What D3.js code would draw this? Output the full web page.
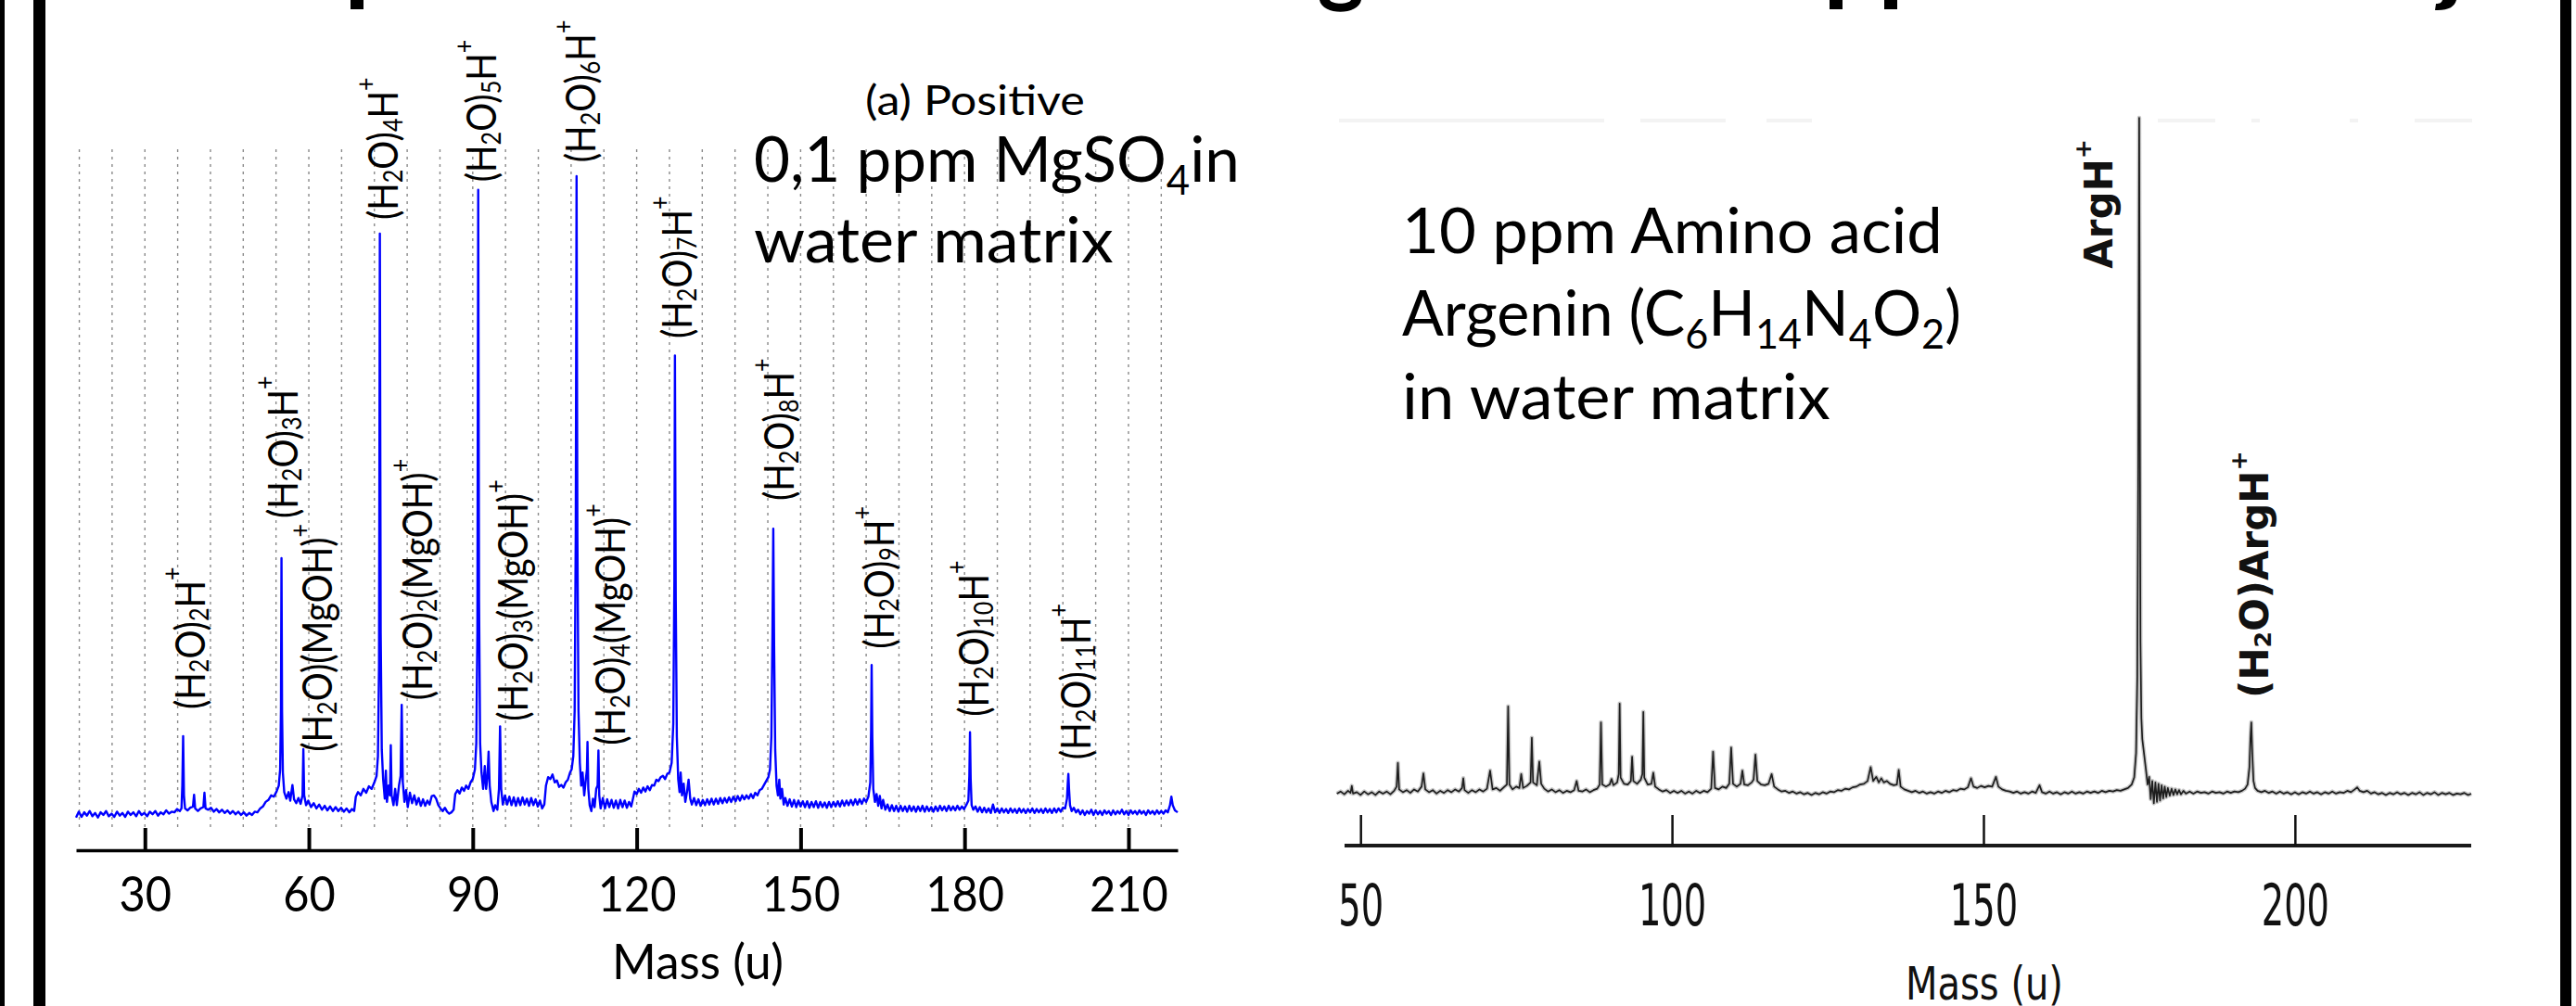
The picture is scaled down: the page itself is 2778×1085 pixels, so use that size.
<!DOCTYPE html>
<html><head><meta charset="utf-8">
<script src="https://cdn.jsdelivr.net/npm/d3@7"></script>
<style>
html,body{margin:0;padding:0;background:#fff;overflow:hidden}
text{white-space:pre}
</style>
</head><body>
<svg id="c" width="2778" height="1085"></svg>
<script>
// ---------------- DATA ----------------
const leftTicks = [30, 60, 90, 120, 150, 180, 210];
const leftGrid = [18,24,30,36,42,48,54,60,66,72,78,84,90,96,102,108,114,120,126,132,138,144,150,156,162,168,174,180,186,192,198,204,210,216];
const rightTicks = [50, 100, 150, 200];

// left spectrum (mass u, relative intensity)
const leftSpectrum = [
[17.4,1.6],[17.9,2.5],[18.4,1.7],[18.9,2.4],[19.4,1.9],[19.9,2.6],[20.4,1.8],[20.9,2.3],[21.4,1.6],[21.9,2.4],
[22.4,2.0],[22.9,2.6],[23.4,1.8],[23.9,2.2],[24.4,1.7],[24.9,2.5],[25.4,1.9],[25.9,2.3],[26.4,1.7],[26.9,2.5],
[27.4,2.0],[27.9,2.4],[28.4,1.8],[28.9,2.6],[29.4,2.0],[29.9,2.3],[30.4,1.8],[30.9,2.5],[31.4,2.1],[31.9,2.6],
[32.4,1.9],[32.9,2.4],[33.4,2.1],[33.9,2.7],[34.4,2.2],[34.9,2.5],[35.4,2.4],[35.9,2.9],[36.4,2.6],[36.7,3.0],
[36.85,6.5],[37.0,14.1],[37.15,5.0],[37.35,3.0],[37.8,2.7],[38.3,3.1],[38.8,3.3],[39.0,5.1],[39.2,3.0],[39.7,2.6],
[40.2,3.0],[40.7,3.2],[40.9,5.4],[41.1,3.0],[41.6,2.8],[42.1,3.1],[42.6,2.5],[43.1,2.9],[43.6,2.4],[44.1,2.8],
[44.6,2.3],[45.1,2.7],[45.6,2.2],[46.1,2.6],[46.6,2.1],[47.1,2.5],[47.6,2.0],[48.1,2.4],[48.6,1.9],[49.1,2.3],
[49.6,2.0],[50.1,2.5],[50.6,2.4],[51.1,3.0],[51.6,3.3],[52.1,4.0],[52.6,4.3],[53.1,5.0],[53.6,4.8],[54.1,5.6],
[54.5,6.5],[54.75,9.0],[54.9,18],[55.0,41.4],[55.1,18],[55.25,8.5],[55.5,5.5],[55.9,4.5],[56.3,5.5],[56.6,4.2],
[57.0,6.6],[57.3,4.4],[57.7,3.8],[58.1,4.6],[58.5,3.7],[58.85,5.0],[59.0,12.1],[59.15,5.0],[59.5,3.5],[59.9,4.2],
[60.4,3.2],[60.9,3.8],[61.4,3.0],[61.9,3.6],[62.4,2.8],[62.9,3.4],[63.4,2.7],[63.9,3.3],[64.4,2.6],[64.9,3.2],
[65.4,2.6],[65.9,3.1],[66.4,2.5],[66.9,3.0],[67.4,2.4],[67.9,2.9],[68.3,2.6],[68.6,4.8],[69.0,5.5],[69.5,5.0],
[70.0,6.0],[70.5,5.4],[71.0,6.4],[71.5,6.0],[72.0,7.0],[72.4,8.0],[72.65,11],[72.85,25],[73.0,91.2],[73.15,30],
[73.35,12],[73.6,7.5],[73.9,4.5],[74.1,8.8],[74.3,4.0],[74.6,6.5],[74.85,5.0],[75.0,12.7],[75.15,5.0],[75.5,3.5],
[75.8,6.0],[76.1,3.5],[76.5,6.5],[76.8,8.0],[77.0,18.9],[77.2,7.0],[77.5,4.0],[77.8,5.8],[78.1,3.2],[78.5,5.4],
[78.9,3.8],[79.3,5.0],[79.7,3.6],[80.1,4.6],[80.5,3.4],[80.9,4.4],[81.3,3.4],[81.7,4.2],[82.1,3.6],[82.5,4.9],
[82.9,5.0],[83.3,4.5],[83.7,3.5],[84.1,3.0],[84.5,2.6],[84.9,3.1],[85.3,2.5],[85.7,2.2],[86.1,2.4],[86.5,2.8],
[86.8,5.2],[87.2,5.8],[87.6,5.3],[88.0,6.2],[88.4,5.7],[88.8,6.5],[89.2,6.0],[89.6,7.0],[90.0,7.5],[90.4,9.0],
[90.65,13],[90.85,30],[91.0,97.9],[91.15,35],[91.35,13],[91.6,8.5],[91.9,6.0],[92.2,9.5],[92.45,6.0],[92.7,8.0],
[92.9,11.7],[93.1,6.5],[93.4,4.0],[93.8,2.6],[94.1,3.5],[94.5,2.8],[94.8,6.0],[95.0,15.6],[95.2,6.0],[95.5,3.6],
[95.9,5.0],[96.3,3.6],[96.7,4.8],[97.1,3.5],[97.5,4.7],[97.9,3.4],[98.3,4.6],[98.7,3.5],[99.1,4.7],[99.5,3.6],
[99.9,4.5],[100.3,3.4],[100.7,4.6],[101.1,3.5],[101.5,4.4],[101.9,3.3],[102.3,4.2],[102.7,3.0],[103.1,3.6],[103.4,6.5],
[103.8,7.8],[104.2,7.5],[104.6,8.2],[105.0,7.0],[105.4,7.3],[105.8,6.3],[106.2,6.6],[106.6,6.2],[107.0,7.0],[107.4,7.4],
[107.8,8.5],[108.1,9.0],[108.4,11],[108.65,18],[108.85,45],[109.0,100],[109.15,45],[109.35,18],[109.6,10],[109.85,6.5],
[110.1,8.5],[110.4,5.0],[110.7,7.5],[110.9,9.0],[111.0,13.2],[111.15,6.0],[111.4,3.5],[111.7,2.6],[112.0,4.5],[112.3,3.2],
[112.6,6.0],[112.85,6.5],[113.0,11.9],[113.15,5.0],[113.4,3.0],[113.8,4.6],[114.2,3.0],[114.6,4.4],[115.0,3.2],[115.4,4.3],
[115.8,3.1],[116.2,4.2],[116.6,3.0],[117.0,4.3],[117.4,3.2],[117.8,4.2],[118.2,3.1],[118.6,4.0],[119.0,3.3],[119.3,4.4],
[119.6,5.6],[120.0,5.2],[120.4,6.0],[120.8,5.4],[121.2,6.2],[121.6,5.6],[122.0,6.4],[122.4,5.8],[122.8,6.6],[123.2,6.5],
[123.6,7.4],[124.0,7.2],[124.4,7.8],[124.8,8.0],[125.2,7.5],[125.6,8.3],[126.0,8.5],[126.4,10],[126.7,16],[126.9,38],
[127.0,72.5],[127.15,35],[127.35,14],[127.6,7.5],[127.85,5.5],[128.05,8.5],[128.3,5.0],[128.6,6.8],[128.9,4.0],[129.2,5.5],
[129.5,7.4],[129.8,4.5],[130.1,3.6],[130.5,4.6],[130.9,3.5],[131.3,4.4],[131.7,3.4],[132.1,4.3],[132.5,3.5],[132.9,4.4],
[133.3,3.6],[133.7,4.5],[134.1,3.6],[134.5,4.5],[134.9,3.7],[135.3,4.6],[135.7,3.8],[136.1,4.6],[136.5,3.9],[136.9,4.7],
[137.3,4.0],[137.7,4.8],[138.1,4.1],[138.5,4.9],[138.9,4.2],[139.3,5.0],[139.7,4.4],[140.1,5.0],[140.5,4.5],[140.9,5.2],
[141.3,4.6],[141.7,5.4],[142.1,5.0],[142.5,5.8],[142.9,6.0],[143.3,6.6],[143.7,7.2],[144.1,7.8],[144.4,9.0],[144.65,14],
[144.85,30],[145.0,45.9],[145.15,28],[145.35,12],[145.6,6.5],[145.85,5.0],[146.1,7.4],[146.3,4.5],[146.6,6.0],[146.9,3.6],
[147.2,4.6],[147.6,3.4],[148.0,4.4],[148.4,3.3],[148.8,4.3],[149.2,3.2],[149.6,4.2],[150.0,3.3],[150.4,4.1],[150.8,3.2],
[151.2,4.1],[151.6,3.1],[152.0,4.0],[152.4,3.2],[152.8,4.1],[153.2,3.1],[153.6,4.0],[154.0,3.2],[154.4,3.9],[154.8,3.1],
[155.2,4.0],[155.6,3.2],[156.0,4.0],[156.4,3.3],[156.8,4.1],[157.2,3.3],[157.6,4.2],[158.0,3.4],[158.4,4.2],[158.8,3.5],
[159.2,4.3],[159.6,3.5],[160.0,4.4],[160.4,3.6],[160.8,4.4],[161.2,3.7],[161.6,4.5],[162.0,4.0],[162.4,4.8],[162.75,7.0],
[162.9,15],[163.0,25.0],[163.12,14],[163.3,6.0],[163.6,4.0],[163.9,5.2],[164.2,3.4],[164.5,4.9],[164.8,3.0],[165.1,4.3],
[165.5,2.8],[165.9,3.6],[166.3,2.6],[166.7,3.5],[167.1,2.6],[167.5,3.4],[167.9,2.5],[168.3,3.4],[168.7,2.6],[169.1,3.3],
[169.5,2.5],[169.9,3.4],[170.3,2.6],[170.7,3.3],[171.1,2.5],[171.5,3.3],[171.9,2.6],[172.3,3.4],[172.7,2.5],[173.1,3.3],
[173.5,2.6],[173.9,3.2],[174.3,2.5],[174.7,3.3],[175.1,2.6],[175.5,3.4],[175.9,2.7],[176.3,3.3],[176.7,2.6],[177.1,3.4],
[177.5,2.7],[177.9,3.3],[178.3,2.7],[178.7,3.4],[179.1,2.8],[179.5,3.3],[179.9,2.9],[180.3,3.5],[180.7,4.2],[180.88,8.0],
[181.0,14.7],[181.12,7.5],[181.3,3.5],[181.6,2.8],[182.0,3.3],[182.4,2.5],[182.8,3.2],[183.2,2.4],[183.6,3.1],[184.0,2.4],
[184.4,3.0],[184.8,2.3],[185.2,3.6],[185.6,2.4],[186.0,3.0],[186.4,2.3],[186.8,3.0],[187.2,2.4],[187.6,2.9],[188.0,2.3],
[188.4,3.0],[188.8,2.4],[189.2,2.9],[189.6,2.3],[190.0,3.0],[190.4,2.4],[190.8,2.9],[191.2,2.3],[191.6,2.9],[192.0,2.4],
[192.4,3.0],[192.8,2.3],[193.2,2.9],[193.6,2.4],[194.0,2.9],[194.4,2.3],[194.8,3.0],[195.2,2.4],[195.6,2.9],[196.0,2.3],
[196.4,3.0],[196.8,2.4],[197.2,3.0],[197.6,2.5],[198.0,3.1],[198.4,3.0],[198.75,4.5],[198.9,7.0],[199.0,8.3],[199.12,6.0],
[199.3,3.5],[199.6,2.6],[200.0,3.1],[200.4,2.4],[200.8,2.8],[201.2,2.1],[201.6,2.7],[202.0,2.0],[202.4,2.6],[202.8,2.2],
[203.2,2.8],[203.6,2.0],[204.0,2.7],[204.4,2.1],[204.8,2.6],[205.2,2.0],[205.6,2.7],[206.0,2.2],[206.4,2.6],[206.8,2.0],
[207.2,2.7],[207.6,2.1],[208.0,2.6],[208.4,2.2],[208.8,2.8],[209.2,2.1],[209.6,2.6],[210.0,2.0],[210.4,2.7],[210.8,2.2],
[211.2,2.6],[211.6,2.1],[212.0,2.7],[212.4,2.2],[212.8,2.6],[213.2,2.0],[213.6,2.7],[214.0,2.2],[214.4,2.6],[214.8,2.1],
[215.2,2.7],[215.6,2.2],[216.0,2.6],[216.4,2.2],[216.8,2.7],[217.2,2.4],[217.6,3.5],[217.85,4.8],[218.1,3.5],[218.5,2.7],
[219.0,2.4]
];

// right spectrum (mass u, relative intensity)
const rightSpectrum = [
[46.2,3.2],[46.8,3.5],[47.4,3.1],[48.0,3.6],[48.4,3.3],[48.6,4.3],[48.8,3.2],[49.4,3.4],[50.0,3.0],[50.6,3.5],
[51.2,3.1],[51.8,3.4],[52.4,3.0],[53.0,3.5],[53.6,3.2],[54.2,3.5],[54.8,3.1],[55.4,3.6],[55.8,4.2],[56.0,7.6],
[56.2,3.8],[56.8,3.4],[57.4,3.7],[58.0,3.3],[58.6,3.8],[59.2,3.5],[59.8,4.2],[60.1,6.1],[60.4,3.8],[61.0,3.4],
[61.6,3.7],[62.2,3.2],[62.8,3.6],[63.4,3.3],[64.0,3.7],[64.6,3.4],[65.2,3.8],[65.8,3.5],[66.3,4.0],[66.5,5.4],
[66.7,3.7],[67.3,3.3],[67.9,3.7],[68.5,3.4],[69.1,3.8],[69.7,3.5],[70.3,3.9],[70.8,6.5],[71.2,3.8],[71.8,4.0],
[72.4,3.6],[73.0,4.1],[73.5,4.5],[73.7,15.7],[73.9,4.5],[74.4,3.8],[75.0,4.2],[75.5,4.0],[75.8,6.0],[76.1,4.0],
[76.7,4.3],[77.3,4.8],[77.5,11.2],[77.7,4.8],[78.3,4.4],[78.7,7.8],[79.0,4.6],[79.5,3.9],[80.1,3.5],[80.7,3.8],
[81.3,3.4],[81.9,3.7],[82.5,3.3],[83.1,3.6],[83.7,3.4],[84.3,3.7],[84.7,5.0],[85.0,3.6],[85.6,3.5],[86.2,3.8],
[86.8,3.4],[87.4,3.7],[88.0,3.9],[88.4,4.5],[88.6,13.4],[88.8,4.5],[89.4,4.2],[90.0,4.5],[90.3,5.3],[90.6,4.4],
[91.2,4.8],[91.45,6.0],[91.6,16.1],[91.75,5.5],[92.3,4.6],[92.9,4.5],[93.4,5.0],[93.6,8.5],[93.8,5.0],[94.4,4.6],
[95.0,5.2],[95.25,6.0],[95.4,14.9],[95.55,5.5],[96.1,4.5],[96.7,4.6],[97.0,6.2],[97.3,4.2],[97.9,3.8],[98.5,3.5],
[99.1,3.7],[99.7,3.3],[100.3,3.6],[100.9,3.3],[101.5,3.6],[102.1,3.2],[102.7,3.5],[103.3,3.2],[103.9,3.6],[104.5,3.3],
[105.1,3.6],[105.7,3.4],[106.3,3.9],[106.6,9.2],[106.9,4.0],[107.5,3.8],[108.1,4.2],[108.7,4.0],[109.2,4.6],[109.5,9.8],
[109.8,4.6],[110.4,4.2],[111.0,4.6],[111.3,6.5],[111.6,4.5],[112.2,4.4],[112.8,4.8],[113.1,5.2],[113.4,8.8],[113.7,5.0],
[114.3,4.5],[114.9,4.4],[115.5,4.6],[116.0,6.0],[116.4,4.2],[117.0,3.8],[117.6,3.5],[118.2,3.6],[118.8,3.3],[119.4,3.5],
[120.0,3.2],[120.6,3.4],[121.2,3.1],[121.8,3.3],[122.4,3.0],[123.0,3.3],[123.6,3.1],[124.2,3.4],[124.8,3.2],[125.4,3.5],
[126.0,3.4],[126.6,3.7],[127.2,3.6],[127.8,3.9],[128.4,3.8],[129.0,4.1],[129.6,4.2],[130.2,4.5],[130.8,4.6],[131.4,5.0],
[131.9,7.0],[132.3,5.0],[132.8,5.6],[133.2,4.8],[133.6,5.4],[134.0,4.8],[134.5,5.0],[135.0,4.6],[135.6,4.4],[136.1,4.5],
[136.4,6.6],[136.7,4.2],[137.3,3.8],[137.9,3.6],[138.5,3.4],[139.1,3.6],[139.7,3.3],[140.3,3.5],[140.9,3.2],[141.5,3.4],
[142.1,3.2],[142.7,3.5],[143.3,3.3],[143.9,3.6],[144.5,3.4],[145.1,3.7],[145.7,3.6],[146.3,3.9],[146.9,3.8],[147.5,4.1],
[148.0,5.4],[148.4,4.2],[149.0,4.0],[149.6,4.3],[150.2,4.1],[150.8,4.3],[151.4,4.2],[152.0,5.6],[152.4,4.2],[153.0,3.8],
[153.6,3.6],[154.2,3.5],[154.8,3.3],[155.4,3.5],[156.0,3.2],[156.6,3.4],[157.2,3.2],[157.8,3.5],[158.4,3.3],[159.0,4.4],
[159.4,3.4],[160.0,3.2],[160.6,3.5],[161.2,3.2],[161.8,3.4],[162.4,3.1],[163.0,3.4],[163.6,3.2],[164.2,3.5],[164.8,3.2],
[165.4,3.4],[166.0,3.2],[166.6,3.5],[167.2,3.3],[167.8,3.5],[168.4,3.3],[169.0,3.6],[169.6,3.4],[170.2,3.6],[170.8,3.5],
[171.4,3.7],[172.0,3.6],[172.6,3.8],[173.2,4.0],[173.8,4.5],[174.2,5.5],[174.5,9.0],[174.7,20],[174.85,50],[175.0,100],
[175.1,60],[175.2,25],[175.35,14],[175.5,11],[175.7,9.5],[175.9,8.0],[176.1,6.5],[176.35,4.5],[176.6,5.6],[176.85,2.4],
[177.1,5.0],[177.35,1.8],[177.6,4.8],[177.85,2.0],[178.1,4.6],[178.35,2.2],[178.6,4.4],[178.85,2.5],[179.1,4.2],[179.35,2.7],
[179.6,4.0],[179.9,2.9],[180.2,3.9],[180.5,3.0],[180.8,3.8],[181.1,3.1],[181.4,3.7],[181.7,3.1],[182.1,3.6],[182.5,3.2],
[183.1,3.5],[183.7,3.2],[184.3,3.5],[184.9,3.3],[185.5,3.4],[186.1,3.2],
[186.7,3.5],[187.3,3.3],[187.9,3.4],[188.5,3.2],[189.1,3.5],[189.7,3.3],[190.3,3.5],[190.9,3.4],[191.5,3.6],[192.0,3.9],
[192.4,4.5],[192.7,7.0],[192.85,11],[193.0,13.4],[193.15,9.0],[193.35,5.0],[193.6,4.0],[194.0,3.6],[194.6,3.4],[195.2,3.6],
[195.8,3.3],[196.4,3.5],[197.0,3.2],[197.6,3.5],[198.2,3.2],[198.8,3.4],[199.4,3.1],[200.0,3.4],[200.6,3.1],[201.2,3.4],
[201.8,3.2],[202.4,3.5],[203.0,3.2],[203.6,3.4],[204.2,3.1],[204.8,3.4],[205.4,3.2],[206.0,3.5],[206.6,3.2],[207.2,3.4],
[207.8,3.3],[208.4,3.6],[209.0,3.4],[209.6,3.8],[210.0,4.1],[210.4,3.6],[211.0,3.4],[211.6,3.6],[212.2,3.2],[212.8,3.4],
[213.4,3.1],[214.0,3.3],[214.6,3.0],[215.2,3.3],[215.8,3.1],[216.4,3.4],[217.0,3.1],[217.6,3.3],[218.2,3.0],[218.8,3.3],
[219.4,3.1],[220.0,3.4],[220.6,3.0],[221.2,3.3],[221.8,3.1],[222.4,3.4],[223.0,3.0],[223.6,3.3],[224.2,3.1],[224.8,3.3],
[225.4,3.0],[226.0,3.2],[226.6,3.1],[227.2,3.3],[227.8,3.0],[228.3,3.2]
];

// peak annotations (text, label mass, label base level in intensity units)
const leftLabelText = ["(H_{2}O)_{2}H^{+}","(H_{2}O)_{3}H^{+}","(H_{2}O)(MgOH)^{+}","(H_{2}O)_{4}H^{+}","(H_{2}O)_{2}(MgOH)^{+}",
  "(H_{2}O)_{5}H^{+}","(H_{2}O)_{3}(MgOH)^{+}","(H_{2}O)_{6}H^{+}","(H_{2}O)_{4}(MgOH)^{+}","(H_{2}O)_{7}H^{+}",
  "(H_{2}O)_{8}H^{+}","(H_{2}O)_{9}H^{+}","(H_{2}O)_{10}H^{+}","(H_{2}O)_{11}H^{+}"];
const leftLabelMass = [38.0, 55.0, 61.4, 73.4, 79.7, 91.4, 97.2, 109.6, 115.0, 127.2, 145.9, 164.2, 181.5, 200.2];
const leftLabelLevel = [18.2, 47.5, 11.7, 93.3, 19.6, 99.1, 16.4, 102.1, 12.7, 75.1, 50.2, 27.5, 17.1, 10.5];

const rightLabelText = ["ArgH^{+}", "(H_{2}O)ArgH^{+}"];
const rightLabelMass = [168.5, 193.5];
const rightLabelLevel = [78.4, 16.9];

const leftTitle = "(a) Positive";
const leftNote = ["0,1 ppm MgSO_{4}in", "water matrix"];
const rightNote = ["10 ppm Amino acid", "Argenin (C_{6}H_{14}N_{4}O_{2})", "in water matrix"];
const axisTitle = "Mass (u)";

// ---------------- DRAW ----------------
const svg = d3.select("#c");
svg.append("rect").attr("width", 2778).attr("height", 1085).attr("fill", "#fff");

function rich(textSel, str, size, subScale, subShift, supShift) {
  const parts = str.match(/_\{[^}]*\}|\^\{[^}]*\}|[^_^]+/g);
  let off = 0;
  parts.forEach(p => {
    let kind = "n", s = p;
    if (p.startsWith("_{")) { kind = "sub"; s = p.slice(2, -1); }
    else if (p.startsWith("^{")) { kind = "sup"; s = p.slice(2, -1); }
    const target = kind === "sub" ? subShift * size : (kind === "sup" ? -supShift * size : 0);
    textSel.append("tspan").text(s)
      .attr("dy", target - off)
      .style("font-size", (kind === "n" ? size : size * subScale) + "px");
    off = target;
  });
}
function fitW(sel, x, w) {
  const bw = sel.node().getBBox().width;
  sel.attr("transform", `translate(${x},0) scale(${w / bw},1) translate(${-x},0)`);
}

// slide frame pieces
svg.append("rect").attr("x", 0).attr("y", 0).attr("width", 5).attr("height", 1085).attr("fill", "#000");
svg.append("rect").attr("x", 36).attr("y", 0).attr("width", 13).attr("height", 1085).attr("fill", "#000");
svg.append("rect").attr("x", 2761).attr("y", 0).attr("width", 12).attr("height", 1085).attr("fill", "#000");
// bottoms of the cut-off slide title
const tg = svg.append("g").attr("fill", "#000");
tg.append("rect").attr("x", 378).attr("y", 0).attr("width", 14).attr("height", 10);
tg.append("path").attr("d", "M1423,0 C1426,17 1465,17 1468,0 L1457,0 C1454,5 1437,5 1434,0 Z");
tg.append("rect").attr("x", 1973).attr("y", 0).attr("width", 14).attr("height", 10);
tg.append("rect").attr("x", 2032).attr("y", 0).attr("width", 14).attr("height", 10);
tg.append("path").attr("d", "M2634,0 L2649,0 C2647,7 2641,11 2629,11 L2626,11 L2627,4 C2631,4 2633,3 2634,0 Z");

// ---------- LEFT CHART ----------
const xL = d3.scaleLinear().domain([17.4, 219]).range([82, 1270]);
const yL = d3.scaleLinear().domain([0, 100]).range([893, 190]);

svg.append("g").selectAll("line").data(leftGrid).join("line")
  .attr("x1", d => xL(d)).attr("x2", d => xL(d))
  .attr("y1", 161).attr("y2", 893)
  .attr("stroke", "#8a8a8a").attr("stroke-width", 1.4).attr("stroke-dasharray", "3,5");

const axL = svg.append("g").attr("transform", "translate(0,917)")
  .call(d3.axisBottom(xL).tickValues(leftTicks).tickFormat(d3.format("d"))
    .tickSizeInner(-24).tickSizeOuter(0).tickPadding(28));
axL.select(".domain").attr("stroke", "#000").attr("stroke-width", 3.5);
axL.selectAll(".tick line").attr("stroke", "#000").attr("stroke-width", 4);
axL.selectAll(".tick text").attr("font-family", "Lato, 'Noto Sans', sans-serif")
  .attr("font-size", 53).attr("fill", "#000").attr("transform", "scale(0.92,1)");

svg.append("path").datum(leftSpectrum)
  .attr("d", d3.line().x(d => xL(d[0])).y(d => yL(d[1])))
  .attr("fill", "none").attr("stroke", "#0000ff").attr("stroke-width", 2.4)
  .attr("stroke-linejoin", "round");

leftLabelText.forEach((s, i) => {
  const g = svg.append("g")
    .attr("transform", `translate(${xL(leftLabelMass[i])},${yL(leftLabelLevel[i])}) rotate(-90) scale(0.86,1)`);
  const t = g.append("text").attr("x", 0).attr("y", 0)
    .attr("font-family", "Lato, 'Noto Sans', sans-serif").attr("fill", "#000")
    .attr("dominant-baseline", "central");
  rich(t, s, 45, 0.65, 0.22, 0.42);
});

const lt = svg.append("text").attr("x", 933).attr("y", 124)
  .attr("font-family", "Lato, 'Noto Sans', sans-serif").attr("font-size", 44).attr("fill", "#000").text(leftTitle);
fitW(lt, 933, 237);

[[leftNote[0], 196, 524], [leftNote[1], 283, 388]].forEach(([s, y, w]) => {
  const t = svg.append("text").attr("x", 813).attr("y", y)
    .attr("font-family", "Lato, 'Noto Sans', sans-serif").attr("fill", "#000");
  rich(t, s, 68, 0.65, 0.2, 0.4);
  fitW(t, 813, w);
});

const mL = svg.append("text").attr("x", 660).attr("y", 1056)
  .attr("font-family", "Lato, 'Noto Sans', sans-serif").attr("font-size", 52).attr("fill", "#000").text(axisTitle);
fitW(mL, 660, 185);

// ---------- RIGHT CHART ----------
const xR = d3.scaleLinear().domain([46.1, 228.3]).range([1441, 2665]);
const yR = d3.scaleLinear().domain([0, 100]).range([880, 127]);

// faint remnants at top of the pasted spectrum image
[[1444,1730],[1769,1861],[1905,1954],[2327,2389],[2428,2437],[2534,2543],[2604,2666]].forEach(([a,b]) => {
  svg.append("rect").attr("x", a).attr("y", 128).attr("width", b - a).attr("height", 4).attr("fill", "#f3f3f3");
});

const axR = svg.append("g").attr("transform", "translate(0,912)")
  .call(d3.axisBottom(xR).tickValues(rightTicks).tickFormat(d3.format("d"))
    .tickSizeInner(-33).tickSizeOuter(0).tickPadding(42));
axR.select(".domain").attr("stroke", "#1a1a1a").attr("stroke-width", 4)
  .attr("d", `M${1450},0H${2665}`);
axR.selectAll(".tick line").attr("stroke", "#111").attr("stroke-width", 2.5);
axR.selectAll(".tick text").attr("font-family", "'DejaVu Sans', Verdana, sans-serif")
  .attr("font-size", 62).attr("fill", "#111").attr("transform", "scale(0.62,1)");

svg.append("path").datum(rightSpectrum)
  .attr("d", d3.line().x(d => xR(d[0])).y(d => yR(d[1])))
  .attr("fill", "none").attr("stroke", "#9a9a9a").attr("stroke-width", 4.5)
  .attr("stroke-linejoin", "round").attr("opacity", 0.55);
svg.append("path").datum(rightSpectrum)
  .attr("d", d3.line().x(d => xR(d[0])).y(d => yR(d[1])))
  .attr("fill", "none").attr("stroke", "#1e1e1e").attr("stroke-width", 1.7)
  .attr("stroke-linejoin", "round");

rightLabelText.forEach((s, i) => {
  const g = svg.append("g")
    .attr("transform", `translate(${xR(rightLabelMass[i])},${yR(rightLabelLevel[i])}) rotate(-90)`);
  const t = g.append("text").attr("x", 0).attr("y", 0)
    .attr("font-family", "'DejaVu Sans', Verdana, sans-serif").attr("font-weight", "bold")
    .attr("fill", "#111").attr("dominant-baseline", "central");
  rich(t, s, 42, 0.6, 0.2, 0.42);
});

[[rightNote[0], 273, 583], [rightNote[1], 362, 603], [rightNote[2], 452, 462]].forEach(([s, y, w]) => {
  const t = svg.append("text").attr("x", 1512).attr("y", y)
    .attr("font-family", "Lato, 'Noto Sans', sans-serif").attr("fill", "#000");
  rich(t, s, 68, 0.65, 0.2, 0.4);
  fitW(t, 1512, w);
});

const mR = svg.append("text").attr("x", 2055).attr("y", 1078)
  .attr("font-family", "'DejaVu Sans', Verdana, sans-serif").attr("font-size", 50).attr("fill", "#111").text(axisTitle);
fitW(mR, 2055, 170);
</script>
</body></html>
